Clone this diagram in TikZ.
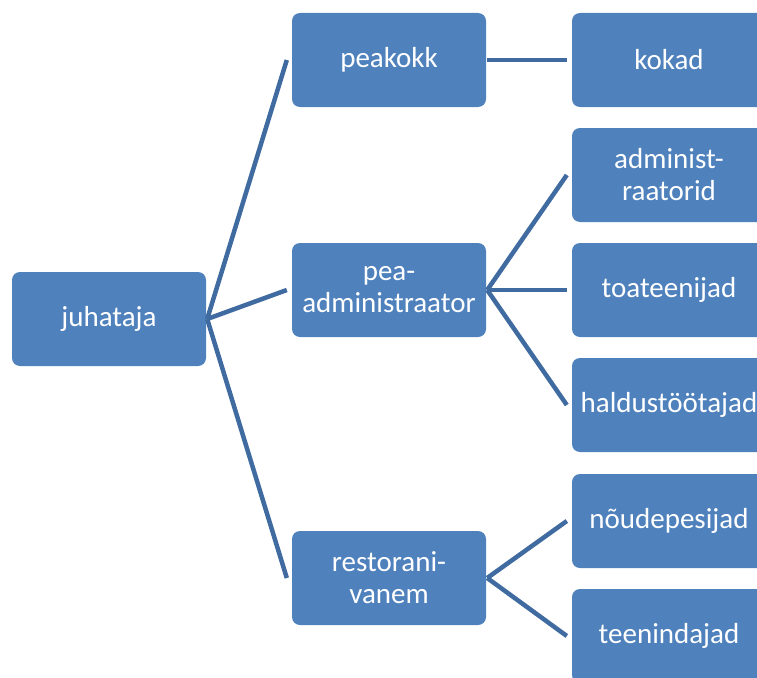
\documentclass[tikz,border=0pt]{standalone}
\usepackage{fontspec}
\setmainfont{Carlito}
\definecolor{boxblue}{RGB}{79,129,189}
\definecolor{lineblue}{RGB}{64,107,160}
\begin{document}
\begin{tikzpicture}[x=1pt,y=-1pt,
  orgbox/.style={draw=none,fill=boxblue,rounded corners=8pt,minimum width=194pt,minimum height=94pt,
    text=white,align=center,inner sep=2pt,font=\fontsize{29}{32}\selectfont},
  link/.style={draw=lineblue,line width=4.5pt}]
\clip (0,0) rectangle (757,677);
\fill[white] (0,0) rectangle (757,677);
\node[orgbox] (j) at (109,319) {juhataja};
\node[orgbox] (pk) at (389,60) {peakokk};
\node[orgbox] (pa) at (389,290) {pea-\\administraator};
\node[orgbox] (rv) at (389,578) {restorani-\\vanem};
\node[orgbox] (ko) at (669,60) {kokad};
\node[orgbox] (ad) at (669,175) {administ-\\raatorid};
\node[orgbox] (to) at (669,290) {toateenijad};
\node[orgbox] (ha) at (669,405) {haldustöötajad};
\node[orgbox] (no) at (669,521) {nõudepesijad};
\node[orgbox] (te) at (669,636) {teenindajad};
\foreach \c in {pk,pa,rv} \draw[link] ([xshift=1pt]j.east) -- ([xshift=-5pt]\c.west);
\draw[link] ([xshift=1pt]pk.east) -- ([xshift=-5pt]ko.west);
\foreach \c in {ad,to,ha} \draw[link] ([xshift=1pt]pa.east) -- ([xshift=-5pt]\c.west);
\foreach \c in {no,te} \draw[link] ([xshift=1pt]rv.east) -- ([xshift=-5pt]\c.west);
\end{tikzpicture}
\end{document}
